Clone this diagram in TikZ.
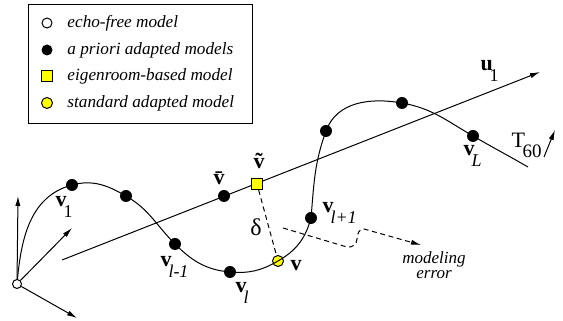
\documentclass[tikz,border=0pt]{standalone}
\usepackage{fontspec}
\setmainfont{Liberation Serif}
\usetikzlibrary{arrows.meta}
\definecolor{cyel}{HTML}{FFFF00}
\newcommand{\vsub}[2]{\textbf{#1}\kern-1.5pt\raisebox{-5.5pt}{\fontsize{9}{10}\selectfont #2}}
\tikzset{
  every picture/.style={line width=0.5pt},
  dot/.style={circle, fill=black, inner sep=0pt, minimum size=6pt},
  ydot/.style={circle, draw, fill=cyel, inner sep=0pt, minimum size=5.5pt},
  ysq/.style={rectangle, draw, fill=cyel, inner sep=0pt, minimum size=5.5pt},
  odot/.style={circle, draw, fill=white, inner sep=0pt, minimum size=5pt},
  lab/.style={font=\fontsize{11}{13}\selectfont, inner sep=0pt, anchor=base west},
  leg/.style={font=\fontsize{8.6}{10}\selectfont\itshape, inner sep=0pt, anchor=west},
  arrow/.style={-{Latex[length=5pt, width=2.6pt]}},
}
\begin{document}
\begin{tikzpicture}[x=0.5pt, y=0.5pt]
  \useasboundingbox (0,0) rectangle (563,321);
  % legend
  \node[draw, inner sep=0pt, minimum width=112pt, minimum height=59.5pt] (legend) at (140,256.5) {};
  \node[odot] (l1) at (47,298) {};
  \node[dot, minimum size=5.5pt] (l2) at (47,271) {};
  \node[ysq] (l3) at (47,245) {};
  \node[ydot] (l4) at (47,218) {};
  \node[leg] (t1) at (67,298) {echo-free model};
  \node[leg] (t2) at (67,271) {a priori adapted models};
  \node[leg] (t3) at (67,245) {eigenroom-based model};
  \node[leg] (t4) at (67,218) {standard adapted model};
  % curve points
  \coordinate (o) at (17,37);
  \coordinate (v1) at (72,136);
  \coordinate (p2) at (126,125);
  \coordinate (vlm) at (175,77);
  \coordinate (vl) at (230,49);
  \coordinate (vy) at (278,60);
  \coordinate (vlp) at (311,103);
  \coordinate (p7) at (326,190);
  \coordinate (p8) at (402,218);
  \coordinate (vL) at (473,185);
  \coordinate (cend) at (528,154);
  \coordinate (us) at (62,61);
  \coordinate (ue) at (540,249);
  \coordinate (ax1) at (18,125);
  \coordinate (ax2) at (72,93);
  \coordinate (ax3) at (77,3);
  \coordinate (t0) at (544,164);
  \coordinate (t6) at (555,191);
  \coordinate (ms) at (283,93);
  \coordinate (me) at (421,76);
  \node[ydot] (yv) at (vy) {};
  \draw (o) to[out=85, in=195] (v1) to[out=15, in=150] (p2) to[out=-30, in=135] (vlm)
    to[out=-45, in=175] (vl) to[out=-5, in=210] (vy) to[out=30, in=255] (vlp)
    to[out=85, in=250] (p7) to[out=70, in=170] (p8) to[out=-10, in=150] (vL)
    to[out=-30, in=150] (cend);
  \draw[arrow] (us) -- (ue);
  \node[dot] (d1) at (v1) {};
  \node[dot] (d2) at (p2) {};
  \node[dot] (d3) at (vlm) {};
  \node[dot] (d4) at (vl) {};
  \node[dot] (d5) at (vlp) {};
  \node[dot] (d6) at (p7) {};
  \node[dot] (d7) at (p8) {};
  \node[dot] (d8) at (vL) {};
  \node[dot] (vb) at (224,125) {};
  \node[ysq] (sq) at (257,137) {};
  \draw[dash pattern=on 2.5pt off 1.8pt] (sq) -- (yv);
  \draw[dash pattern=on 2.5pt off 1.8pt, arrow] (ms) -- (347,74) to[out=-15, in=-90] (357,82)
    to[out=90, in=170] (364,92) -- (me);
  % origin and axes
  \node[odot, minimum size=4.5pt] (org) at (o) {};
  \draw[arrow] (org) -- (ax1);
  \draw[arrow] (org) -- (ax2);
  \draw[arrow] (org) -- (ax3);
  \draw[arrow] (t0) -- (t6);
  % labels
  \node[lab] (lv1) at (55,114) {\vsub{v}{1}};
  \node[lab] (lvlm) at (160,54) {\vsub{v}{\textit{l-1}}};
  \node[lab] (lvl) at (235,28) {\vsub{v}{\textit{l}}};
  \node[lab] (lvy) at (290,50) {\textbf{v}};
  \node[lab] (lvlp) at (322,108) {\vsub{v}{\textit{l+1}}};
  \node[lab] (lvb) at (213,136) {\textbf{\=v}};
  \node[lab] (lvt) at (253,152) {\textbf{\~v}};
  \node[lab] (lvL) at (463,165) {\vsub{v}{\textit{L}}};
  \node[lab] (lu1) at (480,250) {\vsub{u}{1}};
  \node[lab] (lT) at (511,173) {T\kern-1.2pt\raisebox{-5pt}{\fontsize{9.5}{11}\selectfont 60}};
  \node[font=\fontsize{12}{14}\selectfont, inner sep=0pt] (ldel) at (256,94) {δ};
  \node[font=\fontsize{8.5}{7.5}\selectfont\itshape, align=center, inner sep=0pt] (lerr) at (434,56) {modeling\\error};
\end{tikzpicture}
\end{document}
